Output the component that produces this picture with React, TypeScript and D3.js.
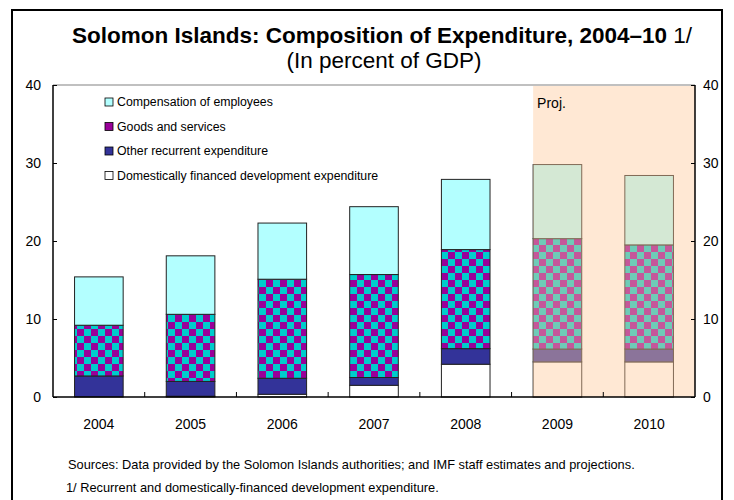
import React, { useEffect, useRef } from "react";
import * as d3 from "d3";

// data (percent of GDP)
const years = ["2004", "2005", "2006", "2007", "2008", "2009", "2010"];
const devExp = [0, 0.1, 0.35, 1.5, 4.2, 4.5, 4.5];
const otherRecurrent = [2.7, 1.9, 2.05, 1.0, 2.0, 1.65, 1.65];
const goodsServices = [6.5, 8.6, 12.7, 13.2, 12.7, 14.15, 13.35];
const compensation = [6.2, 7.5, 7.2, 8.7, 9.0, 9.5, 8.9];
const yTicks = [0, 10, 20, 30, 40];
const projYears = ["2009", "2010"];

const seriesKeys = ["dev", "other", "goods", "comp"];
const legendItems = [
  { key: "comp", label: "Compensation of employees", fill: "#b3ffff" },
  { key: "goods", label: "Goods and services", fill: "#990099" },
  { key: "other", label: "Other recurrent expenditure", fill: "#333399" },
  { key: "dev", label: "Domestically financed development expenditure", fill: "#ffffff" },
];

const W = 734;
const H = 500;
const FONT = "'Liberation Sans', Arial, sans-serif";

export default function App() {
  const ref = useRef<SVGSVGElement>(null);

  useEffect(() => {
    const svg = d3.select(ref.current);
    svg.selectAll("*").remove();

    const margin = { top: 85, right: 39, bottom: 103, left: 53 };
    const x0 = margin.left, x1 = W - margin.right;
    const yBottom = H - margin.bottom;

    const x = d3.scaleBand().domain(years).range([x0, x1]).paddingInner(0.47).paddingOuter(0.235);
    const band = d3.scaleBand().domain(years).range([x0, x1]);
    const y = d3.scaleLinear().domain([0, 40]).range([yBottom, margin.top]);

    // checker pattern for goods and services
    const defs = svg.append("defs");
    const pat = defs.append("pattern")
      .attr("id", "checker")
      .attr("patternUnits", "userSpaceOnUse")
      .attr("width", 14).attr("height", 14);
    pat.append("rect").attr("width", 14).attr("height", 14).attr("fill", "#00cccc");
    pat.append("rect").attr("width", 7).attr("height", 7).attr("fill", "#990099");
    pat.append("rect").attr("x", 7).attr("y", 7).attr("width", 7).attr("height", 7).attr("fill", "#990099");

    // outer frame
    svg.append("rect")
      .attr("x", 12).attr("y", 10).attr("width", 710).attr("height", 520)
      .attr("fill", "none").attr("stroke", "#000").attr("stroke-width", 2);

    // titles
    const title = svg.append("text")
      .attr("x", 382).attr("y", 43)
      .attr("text-anchor", "middle")
      .attr("font-family", FONT).attr("font-size", 22.5);
    title.append("tspan").attr("font-weight", "bold")
      .text("Solomon Islands: Composition of Expenditure, 2004\u201310");
    title.append("tspan").text(" 1/");
    svg.append("text")
      .attr("x", 384).attr("y", 68)
      .attr("text-anchor", "middle")
      .attr("font-family", FONT).attr("font-size", 22.5)
      .text("(In percent of GDP)");

    // stacked data
    const rows = years.map((yr, i) => ({
      year: yr,
      dev: devExp[i],
      other: otherRecurrent[i],
      goods: goodsServices[i],
      comp: compensation[i],
    }));
    const stack = d3.stack<any>().keys(seriesKeys)(rows);
    const fills: Record<string, string> = {
      dev: "#ffffff",
      other: "#333399",
      goods: "url(#checker)",
      comp: "#b3ffff",
    };

    const g = svg.append("g");
    stack.forEach((s) => {
      g.selectAll(null)
        .data(s.filter((d) => d[1] - d[0] > 0))
        .enter()
        .append("rect")
        .attr("x", (d) => x(d.data.year)!)
        .attr("width", x.bandwidth())
        .attr("y", (d) => y(d[1]))
        .attr("height", (d) => y(d[0]) - y(d[1]))
        .attr("fill", fills[s.key])
        .attr("stroke", "#222")
        .attr("stroke-width", 1);
    });

    // projection shading, drawn over the projected bars
    const projStart = x(projYears[0])!;
    svg.append("rect")
      .attr("x", projStart).attr("y", margin.top)
      .attr("width", x1 - projStart).attr("height", yBottom - margin.top)
      .attr("fill", "#ffc99b").attr("fill-opacity", 0.43);
    svg.append("text")
      .attr("x", projStart + 4).attr("y", 108)
      .attr("font-family", FONT).attr("font-size", 14)
      .text("Proj.");

    // frame of the plot
    svg.append("line")
      .attr("x1", x0).attr("x2", x1).attr("y1", margin.top).attr("y2", margin.top)
      .attr("stroke", "#c0c0c0").attr("stroke-width", 2);
    svg.append("line")
      .attr("x1", x0).attr("x2", x0).attr("y1", margin.top).attr("y2", yBottom)
      .attr("stroke", "#000").attr("stroke-width", 1.5);
    svg.append("line")
      .attr("x1", x1).attr("x2", x1).attr("y1", margin.top).attr("y2", yBottom)
      .attr("stroke", "#000").attr("stroke-width", 1.5);

    // y axes (ticks pointing in)
    const left = svg.append("g").attr("transform", `translate(${x0},0)`)
      .call(d3.axisRight(y).tickValues(yTicks).tickSize(4).tickFormat(() => ""));
    left.select(".domain").remove();
    const right = svg.append("g").attr("transform", `translate(${x1},0)`)
      .call(d3.axisLeft(y).tickValues(yTicks).tickSize(4).tickFormat(() => ""));
    right.select(".domain").remove();

    svg.append("g").selectAll("text").data(yTicks).enter().append("text")
      .attr("x", 41).attr("y", (d) => y(d) + 5)
      .attr("text-anchor", "end")
      .attr("font-family", FONT).attr("font-size", 14)
      .text((d) => d);
    svg.append("g").selectAll("text").data(yTicks).enter().append("text")
      .attr("x", 703).attr("y", (d) => y(d) + 5)
      .attr("font-family", FONT).attr("font-size", 14)
      .text((d) => d);

    // x axis with ticks between categories
    svg.append("line")
      .attr("x1", x0).attr("x2", x1).attr("y1", yBottom).attr("y2", yBottom)
      .attr("stroke", "#000").attr("stroke-width", 1.5);
    svg.append("g").selectAll("line")
      .data(years.slice(1)).enter().append("line")
      .attr("x1", (d) => band(d)!).attr("x2", (d) => band(d)!)
      .attr("y1", yBottom).attr("y2", yBottom - 5)
      .attr("stroke", "#000");
    svg.append("g").selectAll("text")
      .data(years).enter().append("text")
      .attr("x", (d) => band(d)! + band.bandwidth() / 2)
      .attr("y", 429)
      .attr("text-anchor", "middle")
      .attr("font-family", FONT).attr("font-size", 14)
      .text((d) => d);

    // legend
    const lg = svg.append("g").attr("transform", "translate(105,102)");
    legendItems.forEach((it, i) => {
      const row = lg.append("g").attr("transform", `translate(0,${i * 24.5})`);
      row.append("rect")
        .attr("x", 0).attr("y", -4).attr("width", 8).attr("height", 8)
        .attr("fill", it.fill).attr("stroke", "#000").attr("stroke-width", 0.8);
      row.append("text")
        .attr("x", 12).attr("y", 4)
        .attr("font-family", FONT).attr("font-size", 12.3)
        .text(it.label);
    });

    // notes
    svg.append("text")
      .attr("x", 68).attr("y", 469)
      .attr("font-family", FONT).attr("font-size", 12.8)
      .text("Sources: Data provided by the Solomon Islands authorities; and IMF staff estimates and projections.");
    svg.append("text")
      .attr("x", 66).attr("y", 492)
      .attr("font-family", FONT).attr("font-size", 12.8)
      .text("1/ Recurrent and domestically-financed development expenditure.");
  }, []);

  return (
    <svg
      ref={ref}
      width={W}
      height={H}
      style={{ position: "absolute", left: 0, top: 0, background: "#fff" }}
    />
  );
}
